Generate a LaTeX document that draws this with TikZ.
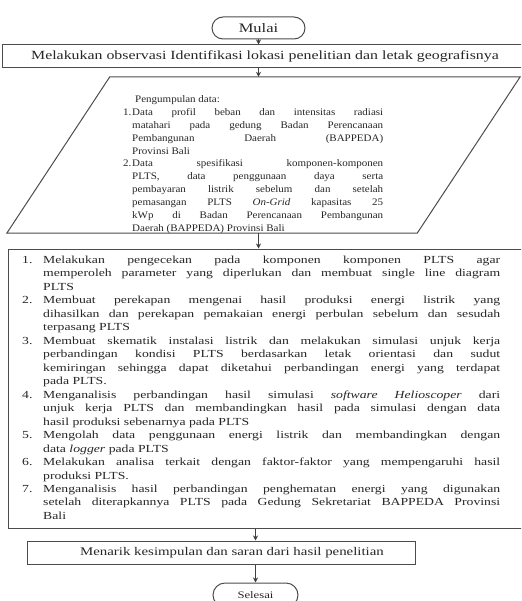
\documentclass[tikz,border=0pt]{standalone}
\usepackage{fontspec}
\setmainfont{Liberation Serif}
\newfontfamily\wideserif[FakeStretch=1.27]{Liberation Serif}
\newfontfamily\paraserif[FakeStretch=1.1]{Liberation Serif}
\usetikzlibrary{arrows.meta}
\newcommand\bitem[1]{\par\hangindent=21pt\hangafter=1\noindent\makebox[21pt][l]{#1}}
\newcommand\pitem[1]{\par\hangindent=9pt\hangafter=1\noindent\makebox[9pt][l]{#1}}
\begin{document}
\begin{tikzpicture}[x=1pt,y=-1pt,
  boxline/.style={draw=black!70, line width=1pt},
  arr/.style={-{Stealth[length=5pt,width=5pt]}, line width=0.8pt, draw=black!75},
  terminal/.style={boxline, rounded corners=11pt, minimum height=22pt, inner sep=0pt},
  txt/.style={text=black!85},
  para/.style={txt, inner sep=0pt, text width=#1, align=justify}
]
\useasboundingbox (0,0) rectangle (521,601);
\clip (0,0) rectangle (521,601);

% start
\node[terminal, txt, minimum width=93pt] (mulai) at (258.5,28)
  {\wideserif\fontsize{13}{15}\selectfont Mulai};

% observation box
\node[boxline, txt, minimum width=526pt, minimum height=23pt, inner sep=0pt] (obs) at (265,56.5)
  {\wideserif\fontsize{12.5}{14}\selectfont Melakukan observasi Identifikasi lokasi penelitian dan letak geografisnya};

% data collection (parallelogram)
\node[minimum width=513pt, minimum height=156pt, inner sep=0pt] (data) at (263.5,155) {};
\draw[boxline] ([xshift=103pt]data.north west) -- (data.north east)
  -- ([xshift=-103pt]data.south east) -- (data.south west) -- cycle;
\node[para=260pt, anchor=base west] (datatext) at (123,102.5) {%
  \paraserif\fontsize{10}{12.9}\selectfont
  \tolerance=10000\hbadness=10000\hyphenpenalty=10000\parindent=0pt
  \hspace*{12pt}Pengumpulan data:
  \pitem{1.}Data profil beban dan intensitas radiasi\linebreak
  matahari pada gedung Badan Perencanaan\linebreak
  Pembangunan Daerah (BAPPEDA)\linebreak
  Provinsi Bali
  \pitem{2.}Data spesifikasi komponen-komponen\linebreak
  PLTS, data penggunaan daya serta\linebreak
  pembayaran listrik sebelum dan setelah\linebreak
  pemasangan PLTS \textit{On-Grid} kapasitas 25\linebreak
  kWp di Badan Perencanaan Pembangunan\linebreak
  Daerah (BAPPEDA) Provinsi Bali\par};

% steps box
\node[boxline, minimum width=522pt, minimum height=279pt, inner sep=0pt] (steps) at (269,388.5) {};
\node[para=478pt, anchor=base west] (stepstext) at (22,263.5) {%
  \wideserif\fontsize{10.8}{13.47}\selectfont
  \tolerance=10000\hbadness=10000\hyphenpenalty=10000\parindent=0pt
  \hangindent=21pt\hangafter=1\makebox[21pt][l]{1.}Melakukan pengecekan pada komponen komponen PLTS agar\linebreak
  memperoleh parameter yang diperlukan dan membuat single line diagram\linebreak
  PLTS
  \bitem{2.}Membuat perekapan mengenai hasil produksi energi listrik yang\linebreak
  dihasilkan dan perekapan pemakaian energi perbulan sebelum dan sesudah\linebreak
  terpasang PLTS
  \bitem{3.}Membuat skematik instalasi listrik dan melakukan simulasi unjuk kerja\linebreak
  perbandingan kondisi PLTS berdasarkan letak orientasi dan sudut\linebreak
  kemiringan sehingga dapat diketahui perbandingan energi yang terdapat\linebreak
  pada PLTS.
  \bitem{4.}Menganalisis perbandingan hasil simulasi \textit{software Helioscoper} dari\linebreak
  unjuk kerja PLTS dan membandingkan hasil pada simulasi dengan data\linebreak
  hasil produksi sebenarnya pada PLTS
  \bitem{5.}Mengolah data penggunaan energi listrik dan membandingkan dengan\linebreak
  data \textit{logger} pada PLTS
  \bitem{6.}Melakukan analisa terkait dengan faktor-faktor yang mempengaruhi hasil\linebreak
  produksi PLTS.
  \bitem{7.}Menganalisis hasil perbandingan penghematan energi yang digunakan\linebreak
  setelah diterapkannya PLTS pada Gedung Sekretariat BAPPEDA Provinsi\linebreak
  Bali\par};

% conclusion box
\node[boxline, txt, minimum width=388pt, minimum height=23pt, inner sep=0pt] (concl) at (221,552.5)
  {\wideserif\fontsize{11.7}{14}\selectfont\hspace*{22pt}Menarik kesimpulan dan saran dari hasil penelitian};

% end
\node[terminal, txt, minimum width=85pt, minimum height=24pt, rounded corners=12pt] (selesai) at (255.5,595)
  {\wideserif\fontsize{10}{12}\selectfont Selesai};

% connectors
\draw[arr] (mulai.south) -- (mulai.south |- obs.north);
\draw[arr] (obs.south -| mulai.south) -- (mulai.south |- data.north);
\draw[arr] (data.south -| mulai.south) -- (mulai.south |- steps.north);
\draw[arr] (steps.south -| selesai.north) -- (selesai.north |- concl.north);
\draw[arr] (concl.south -| selesai.north) -- (selesai.north);
\end{tikzpicture}
\end{document}
